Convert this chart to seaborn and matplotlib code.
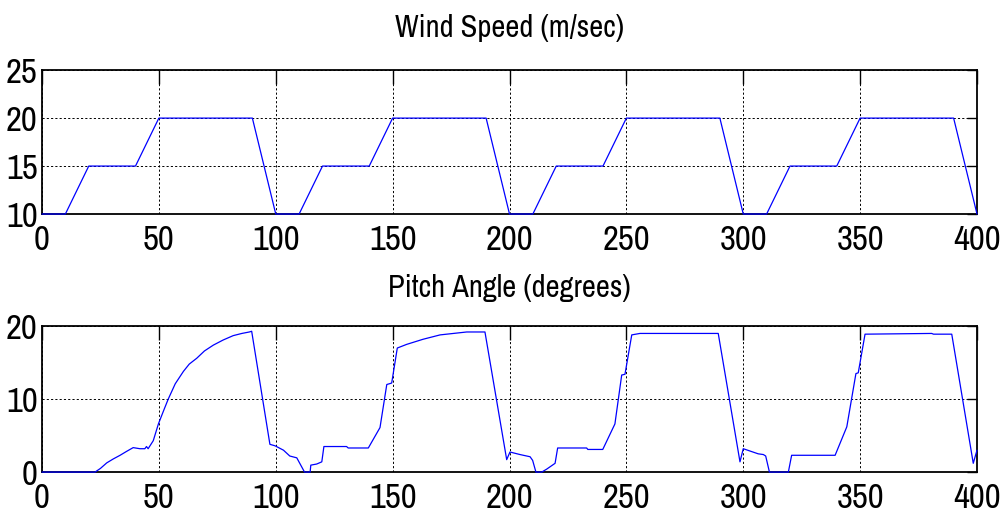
import matplotlib
matplotlib.use("Agg")
import matplotlib.pyplot as plt
import seaborn as sns
import pandas as pd

# Wind speed profile (m/sec) over time
wind_time = [0, 10, 20, 40, 50, 90, 100, 110, 120, 140, 150, 190, 200, 210,
             220, 240, 250, 290, 300, 310, 320, 340, 350, 390, 400]
wind_speed = [10, 10, 15, 15, 20, 20, 10, 10, 15, 15, 20, 20, 10, 10,
              15, 15, 20, 20, 10, 10, 15, 15, 20, 20, 10]

# Pitch angle response (degrees)
pitch_time = [0, 22.7, 25, 27.7, 30.5, 33.4, 36, 39, 41.9, 44, 44.7, 45.4, 47.6,
              49.8, 52, 54, 57, 60.5, 63, 66.2, 69.5, 73.3, 77.5, 81.8, 85.5,
              88.7, 89.7, 97.5, 99.7, 103.3, 106, 109, 111.8, 112.3, 114.7, 115,
              117.5, 119.7, 120.6, 130.3, 131, 139.6, 144.6, 147.5, 149.6, 152,
              156, 163, 170.3, 181.7, 189.5, 198.8, 200.2, 204.5, 208.8, 209.9,
              211.3, 213.8, 215.9, 219.5, 220.6, 233, 233.5, 239.9, 245.1, 248,
              249.4, 252.3, 255.8, 289.3, 298.6, 300, 306.4, 308.6, 309.6, 311.2,
              319.3, 320.7, 339.3, 344.3, 348.2, 349.2, 352.1, 380.6, 381.4,
              389.2, 398.4, 400]
pitch_angle = [0, 0, 0.5, 1.26, 1.8, 2.3, 2.8, 3.35, 3.2, 3.2, 3.5, 3.2, 4.3,
               6.6, 8.4, 10.0, 12.1, 13.8, 14.8, 15.6, 16.6, 17.4, 18.1, 18.7, 19.0,
               19.2, 19.3, 3.8, 3.6, 3.0, 2.2, 1.95, 0.3, 0, 0, 0.95,
               1.1, 1.4, 3.5, 3.5, 3.3, 3.3, 6.1, 12.0, 12.2, 17.0,
               17.5, 18.2, 18.8, 19.2, 19.2, 1.7, 2.75, 2.4, 2.1, 1.6,
               0, 0, 0.4, 1.2, 3.3, 3.3, 3.1, 3.1, 6.6, 13.3,
               13.4, 18.8, 19.0, 19.0, 1.4, 3.2, 2.5, 2.4, 2.2, 0,
               0, 2.3, 2.3, 6.2, 13.5, 13.6, 18.9, 19.0, 18.9,
               18.9, 1.2, 3.0]

x_ticks = [0, 50, 100, 150, 200, 250, 300, 350, 400]
wind_yticks = [10, 15, 20, 25]
pitch_yticks = [0, 10, 20]

sns.set_style("white")
plt.rcParams["font.family"] = ["Archivo Narrow", "Liberation Sans", "DejaVu Sans"]

fig = plt.figure(figsize=(10, 5.12), dpi=100)
ax1 = fig.add_axes([0.042, 0.582, 0.935, 0.281])
ax2 = fig.add_axes([0.042, 0.078, 0.935, 0.285])

wind_df = pd.DataFrame({"t": wind_time, "v": wind_speed})
pitch_df = pd.DataFrame({"t": pitch_time, "v": pitch_angle})

for ax, df in ((ax1, wind_df), (ax2, pitch_df)):
    sns.lineplot(data=df, x="t", y="v", ax=ax, color="#0000ff", linewidth=0.9,
                 estimator=None, sort=False, zorder=3, clip_on=False)


def style_axes(ax, yticks, ylim, title, pad):
    ax.set_xlim(0, 400)
    ax.set_ylim(*ylim)
    ax.set_xticks(x_ticks)
    ax.set_yticks(yticks)
    ax.set_xlabel("")
    ax.set_ylabel("")
    ax.grid(True, color="black", linestyle=(0, (2.2, 2.2)), linewidth=0.7)
    ax.set_axisbelow(True)
    for s in ax.spines.values():
        s.set_visible(True)
        s.set_color("black")
        s.set_linewidth(1.3)
    ax.tick_params(axis="both", direction="in", top=True, right=True,
                   labelsize=25, colors="black", width=1.0)
    ax.tick_params(axis="x", length=10, pad=7)
    ax.tick_params(axis="y", length=7, pad=3)
    ax.set_title(title, fontsize=22, pad=pad, color="black")


style_axes(ax1, wind_yticks, (10, 25), "Wind Speed (m/sec)", 24)
style_axes(ax2, pitch_yticks, (0, 20), "Pitch Angle (degrees)", 21)

fig.savefig("out.png", dpi=100, facecolor="white")
